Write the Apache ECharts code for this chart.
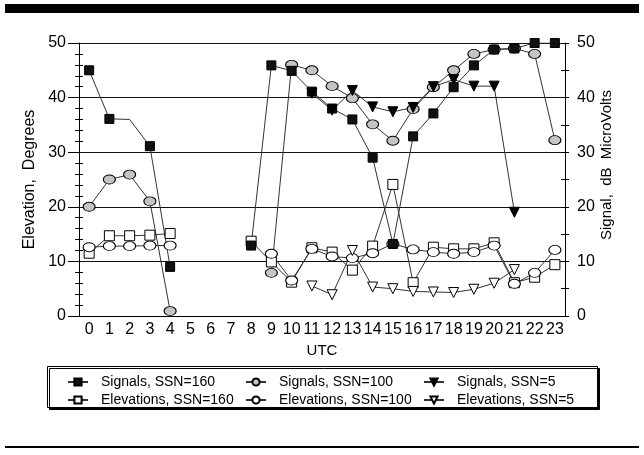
<!DOCTYPE html>
<html>
<head>
<meta charset="utf-8">
<script src="https://cdn.jsdelivr.net/npm/echarts@6/dist/echarts.min.js"></script>
<style>
  html, body { margin: 0; padding: 0; background: #fff; }
  #chart { width: 644px; height: 455px; }
</style>
</head>
<body>
<div id="chart"></div>
<script>
const hours = ['0','1','2','3','4','5','6','7','8','9','10','11','12','13','14','15','16','17','18','19','20','21','22','23'];

// signal strength (dB uV) by hour
const sig160 = [45, 36.1, 36, 31.1, 9, null, null, null, 12.9, 45.9, 44.9, 41.1, 38, 36, 29, 13.2, 32.9, 37.1, 41.9, 45.9, 48.8, 49, 50, 50];
const sig100 = [20, 25, 25.9, 21, 0.9, null, null, null, null, 7.9, 46, 45, 42.1, 39.9, 35.1, 32.1, 37.9, 41.9, 45, 48, 48.8, 49, 48, 32.2];
const sig5 = [null, null, null, null, null, null, null, null, null, null, null, 40.8, 37.7, 41.3, 38.3, 37.4, 38.2, 42, 43.3, 42.1, 42.1, 19, null, null];
// hours where the SSN=160 signal line bends with no marker
const sig160NoMark = [2];

// elevation angles (degrees) by hour
const elev160 = [11.5, 14.7, 14.7, 14.8, 15.1, null, null, null, 13.7, 9.9, 6.2, 12.5, 11.7, 8.4, 12.8, 24.1, 6.1, 12.6, 12.3, 12.3, 13.4, 6.1, 7.1, 9.4];
const elev100 = [12.6, 12.8, 12.8, 12.9, 12.9, null, null, null, null, 11.4, 6.5, 12.3, 10.9, 10.6, 11.5, 13.2, 12.2, 11.7, 11.4, 11.7, 12.9, 5.9, 7.9, 12.1];
const elev5 = [null, null, null, null, null, null, null, null, null, null, null, 5.5, 3.9, 12.0, 5.3, 5.0, 4.5, 4.4, 4.3, 4.9, 6.0, 8.5, null, null];

const FONT = 'Liberation Sans';
const chart = echarts.init(document.getElementById('chart'));

const mkSeries = (name, data, symbol, size, fill, rotate) => ({
    name: name,
    type: 'line',
    data: data,
    yAxisIndex: 0,
    symbol: symbol,
    symbolSize: size,
    symbolRotate: rotate || 0,
    showAllSymbol: true,
    connectNulls: false,
    animation: false,
    itemStyle: { color: fill, borderColor: '#000', borderWidth: 1 },
    lineStyle: { color: '#333', width: 1 },
    emphasis: { disabled: true }
});

const legendBase = {
    orient: 'vertical',
    itemWidth: 20,
    itemHeight: 9,
    itemGap: 4,
    textStyle: { fontFamily: FONT, fontSize: 14, color: '#000', padding: [0, 0, 0, 8] },
    selectedMode: false
};

chart.setOption({
    backgroundColor: '#fff',
    textStyle: { fontFamily: FONT },
    grid: { left: 79, right: 79, top: 43, bottom: 139 },
    xAxis: [
        {
            type: 'category',
            data: hours,
            boundaryGap: true,
            name: 'UTC',
            nameLocation: 'middle',
            nameGap: 27,
            nameTextStyle: { fontFamily: FONT, fontSize: 15, color: '#000' },
            axisLine: { lineStyle: { color: '#000', width: 1 } },
            axisTick: { alignWithLabel: true, length: 4, lineStyle: { color: '#000' } },
            axisLabel: { interval: 0, margin: 6, fontFamily: FONT, fontSize: 16, color: '#000' },
            splitLine: { show: false }
        },
        {
            type: 'category',
            data: hours,
            boundaryGap: true,
            position: 'bottom',
            axisLine: { show: false },
            axisTick: { alignWithLabel: true, inside: true, length: 4, lineStyle: { color: '#000' } },
            axisLabel: { show: false },
            splitLine: { show: false }
        }
    ],
    yAxis: [
        {
            type: 'value',
            min: 0, max: 50, interval: 10,
            position: 'left',
            name: 'Elevation,  Degrees',
            nameLocation: 'middle',
            nameGap: 38,
            nameTextStyle: { fontFamily: FONT, fontSize: 16, color: '#000' },
            axisLine: { show: true, lineStyle: { color: '#000' } },
            axisTick: { show: true, length: 11, lineStyle: { color: '#000' } },
            minorTick: { show: true, splitNumber: 5, length: 4, lineStyle: { color: '#000' } },
            axisLabel: { margin: 13, fontFamily: FONT, fontSize: 16, color: '#000' },
            splitLine: { show: true, lineStyle: { color: '#111', width: 1 } }
        },
        {
            type: 'value',
            min: 0, max: 50, interval: 10,
            position: 'left',
            axisLine: { show: false },
            axisTick: { show: false, inside: true },
            minorTick: { show: true, splitNumber: 5, length: 4, lineStyle: { color: '#000' } },
            axisLabel: { show: false },
            splitLine: { show: false }
        },
        {
            type: 'value',
            min: 0, max: 50, interval: 5,
            position: 'right',
            axisLine: { show: true, lineStyle: { color: '#000' } },
            axisTick: { show: true, length: 4, lineStyle: { color: '#000' } },
            axisLabel: {
                margin: 12, fontFamily: FONT, fontSize: 16, color: '#000',
                formatter: v => (v % 10 === 0 ? String(v) : '')
            },
            splitLine: { show: false }
        },
        {
            type: 'value',
            min: 0, max: 50, interval: 5,
            position: 'right',
            axisLine: { show: false },
            axisTick: { show: true, inside: true, length: 4, lineStyle: { color: '#000' } },
            axisLabel: { show: false },
            splitLine: { show: false }
        }
    ],
    legend: [
        Object.assign({ left: 62, top: 370, data: ['Signals, SSN=160', 'Elevations, SSN=160'] }, legendBase),
        Object.assign({ left: 240, top: 370, data: ['Signals, SSN=100', 'Elevations, SSN=100'] }, legendBase),
        Object.assign({ left: 418, top: 370, data: ['Signals, SSN=5', 'Elevations, SSN=5'] }, legendBase)
    ],
    graphic: [
        { type: 'rect', left: 5, top: 4, shape: { width: 634, height: 9 }, style: { fill: '#000' }, z: 10 },
        { type: 'rect', left: 5, top: 446, shape: { width: 634, height: 2 }, style: { fill: '#000' }, z: 10 },
        {
            type: 'rect', left: 47, top: 366, z: 0,
            shape: { width: 550, height: 41 },
            style: { fill: '#fff', stroke: '#000', lineWidth: 1, shadowColor: '#000', shadowOffsetX: 2, shadowOffsetY: 2, shadowBlur: 0 }
        },
        {
            type: 'text', x: 607, y: 165, rotation: Math.PI / 2, z: 10,
            style: { text: 'Signal,  dB  MicroVolts', fontFamily: FONT, fontSize: 15, fill: '#000', align: 'center', verticalAlign: 'middle' }
        }
    ],
    series: [
        mkSeries('Elevations, SSN=160', elev160, 'rect', 10, '#fff'),
        mkSeries('Elevations, SSN=100', elev100, 'circle', [12, 9], '#fff'),
        mkSeries('Elevations, SSN=5', elev5, 'triangle', 10, '#fff', 180),
        mkSeries('Signals, SSN=100', sig100, 'circle', [12, 9], '#c4c4c4'),
        mkSeries('Signals, SSN=160',
            sig160.map((v, i) => (sig160NoMark.includes(i) ? { value: v, symbol: 'none' } : v)),
            'rect', 9, '#111'),
        mkSeries('Signals, SSN=5', sig5, 'triangle', 10, '#000', 180)
    ]
});
</script>
</body>
</html>
